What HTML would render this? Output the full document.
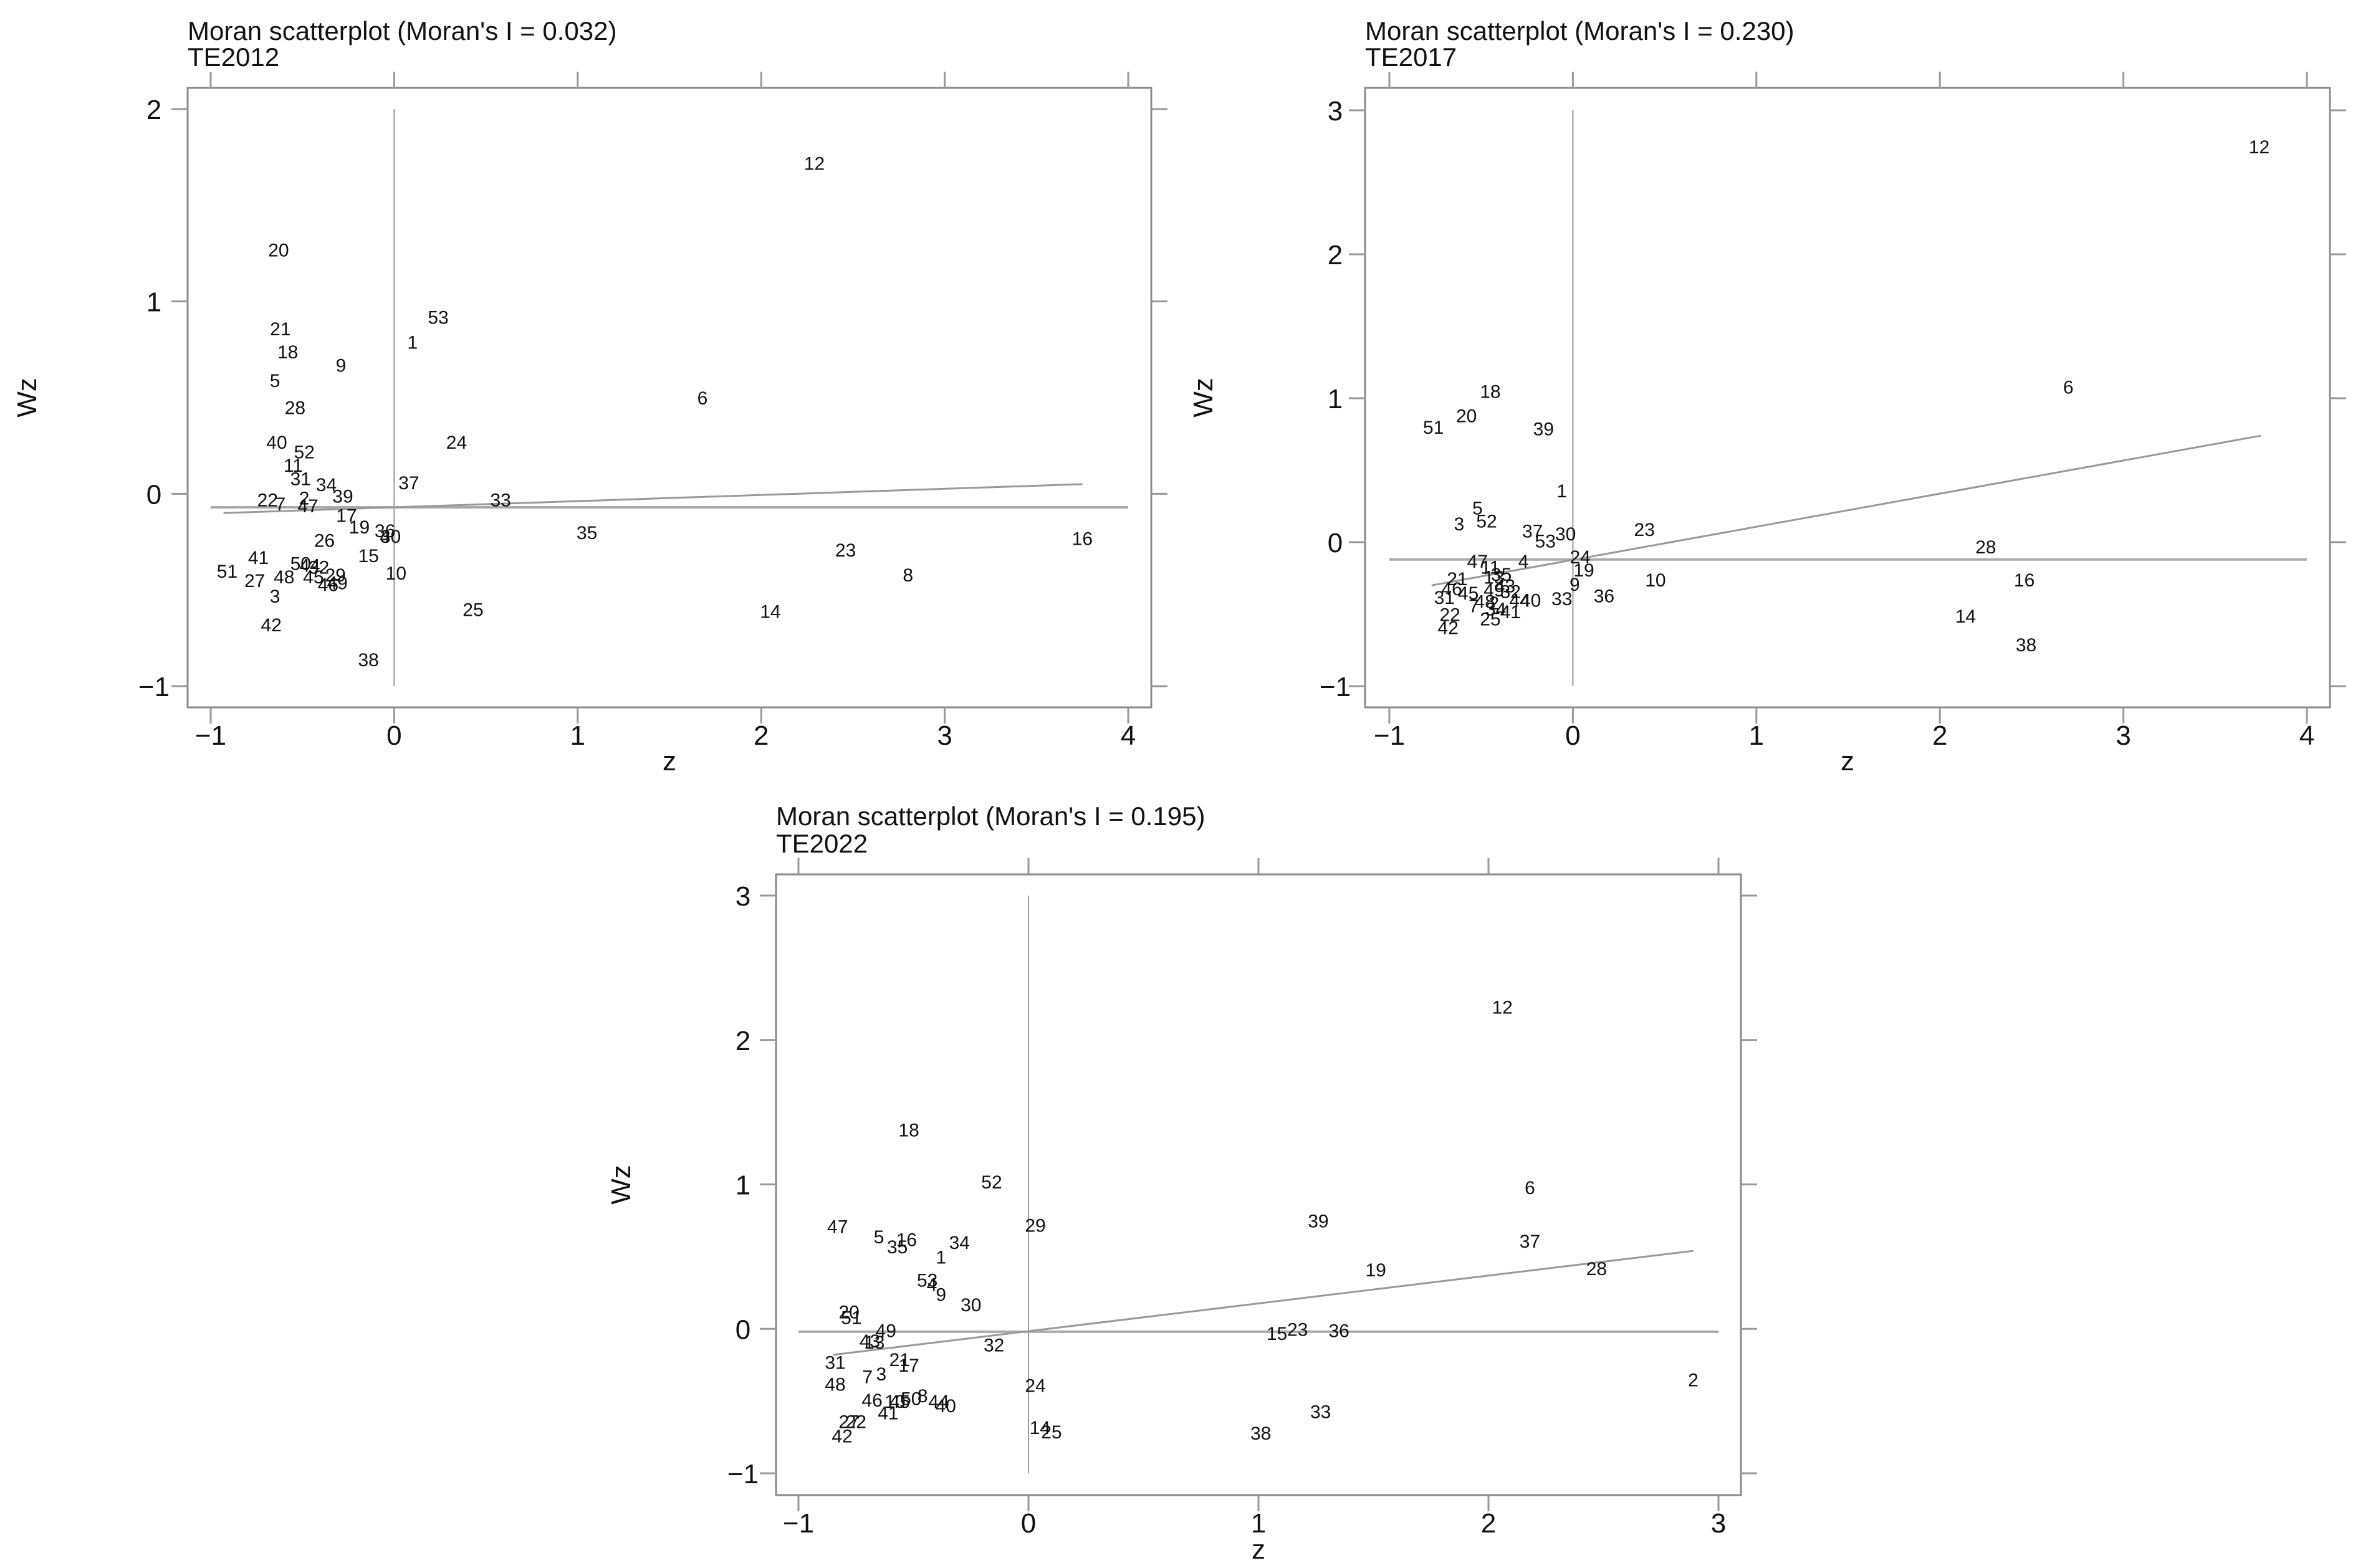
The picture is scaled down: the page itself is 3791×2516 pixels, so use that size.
<!DOCTYPE html>
<html><head><meta charset="utf-8">
<style>
html,body{margin:0;padding:0;background:#fff;}
svg{display:block;font-family:"Liberation Sans",Arial,sans-serif;}
</style></head>
<body>
<svg id="chart" width="3791" height="2516" viewBox="0 0 3791 2516" xmlns="http://www.w3.org/2000/svg">
<rect x="0" y="0" width="3791" height="2516" fill="#fff"/>
</svg>
<script>
// ---- Panel 1: TE2012 ----
const p1Labels=["12","20","53","21","1","18","9","5","6","28","24","40","52","11","31","34","37","39","22","2","33","7","47","17","19","36","4","30","35","16","26","23","15","41","50","44","32","51","10","8","29","48","45","27","49","46","3","25","14","42","38"];
const p1X=[2.29,-0.63,0.24,-0.62,0.10,-0.58,-0.29,-0.65,1.68,-0.54,0.34,-0.64,-0.49,-0.55,-0.51,-0.37,0.08,-0.28,-0.69,-0.49,0.58,-0.62,-0.47,-0.26,-0.19,-0.05,-0.05,-0.02,1.05,3.75,-0.38,2.46,-0.14,-0.74,-0.51,-0.46,-0.41,-0.91,0.01,2.80,-0.32,-0.60,-0.44,-0.76,-0.31,-0.36,-0.65,0.43,2.05,-0.67,-0.14];
const p1Y=[1.72,1.27,0.92,0.86,0.79,0.74,0.67,0.59,0.50,0.45,0.27,0.27,0.22,0.15,0.08,0.05,0.06,-0.01,-0.03,-0.02,-0.03,-0.05,-0.06,-0.11,-0.17,-0.19,-0.22,-0.22,-0.20,-0.23,-0.24,-0.29,-0.32,-0.33,-0.36,-0.37,-0.38,-0.40,-0.41,-0.42,-0.42,-0.43,-0.43,-0.45,-0.46,-0.47,-0.53,-0.60,-0.61,-0.68,-0.86];
const p1Fit=[[-0.93,-0.10],[3.75,0.05]];
const p1MeanWz=[-0.07];
const p1XTicks=[-1,0,1,2,3,4];
const p1YTicks=[-1,0,1,2];

// ---- Panel 2: TE2017 ----
const p2Labels=["12","6","18","20","51","39","1","5","52","3","37","53","30","23","28","24","47","4","11","19","21","35","10","16","9","13","43","46","45","49","32","31","36","33","7","48","2","44","40","34","41","14","22","25","38","42"];
const p2X=[3.74,2.70,-0.45,-0.58,-0.76,-0.16,-0.06,-0.52,-0.47,-0.62,-0.22,-0.15,-0.04,0.39,2.25,0.04,-0.52,-0.27,-0.45,0.06,-0.63,-0.39,0.45,2.46,0.01,-0.43,-0.37,-0.66,-0.57,-0.43,-0.34,-0.70,0.17,-0.06,-0.54,-0.48,-0.43,-0.29,-0.23,-0.42,-0.34,2.14,-0.67,-0.45,2.47,-0.68];
const p2Y=[2.75,1.08,1.05,0.88,0.80,0.79,0.36,0.24,0.15,0.13,0.08,0.01,0.06,0.09,-0.03,-0.10,-0.13,-0.13,-0.17,-0.19,-0.25,-0.22,-0.26,-0.26,-0.29,-0.24,-0.30,-0.32,-0.35,-0.33,-0.34,-0.38,-0.37,-0.39,-0.44,-0.41,-0.42,-0.40,-0.40,-0.46,-0.48,-0.51,-0.50,-0.53,-0.71,-0.59];
const p2Fit=[[-0.77,-0.30],[3.75,0.74]];
const p2MeanWz=[-0.12];
const p2XTicks=[-1,0,1,2,3,4];
const p2YTicks=[-1,0,1,2,3];

// ---- Panel 3: TE2022 ----
const p3Labels=["12","18","52","6","39","29","47","5","16","37","34","35","1","19","28","53","4","9","30","20","51","23","15","36","49","43","13","32","21","31","17","3","7","2","48","24","46","50","8","10","45","44","40","33","41","27","22","14","25","38","42"];
const p3X=[2.06,-0.52,-0.16,2.18,1.26,0.03,-0.83,-0.65,-0.53,2.18,-0.30,-0.57,-0.38,1.51,2.47,-0.44,-0.42,-0.38,-0.25,-0.78,-0.77,1.17,1.08,1.35,-0.62,-0.69,-0.67,-0.15,-0.56,-0.84,-0.52,-0.64,-0.70,2.89,-0.84,0.03,-0.68,-0.51,-0.46,-0.58,-0.56,-0.39,-0.36,1.27,-0.61,-0.78,-0.75,0.05,0.10,1.01,-0.81];
const p3Y=[2.23,1.38,1.02,0.98,0.75,0.72,0.71,0.64,0.62,0.61,0.60,0.57,0.50,0.41,0.42,0.34,0.31,0.24,0.17,0.12,0.08,0.00,-0.03,-0.01,-0.01,-0.08,-0.09,-0.11,-0.21,-0.23,-0.25,-0.31,-0.33,-0.35,-0.38,-0.39,-0.49,-0.48,-0.46,-0.50,-0.50,-0.50,-0.53,-0.57,-0.58,-0.64,-0.64,-0.68,-0.71,-0.72,-0.74];
const p3Fit=[[-0.85,-0.18],[2.89,0.54]];
const p3MeanWz=[-0.02];
const p3XTicks=[-1,0,1,2,3];
const p3YTicks=[-1,0,1,2,3];

const NS="http://www.w3.org/2000/svg";
const svg=document.getElementById('chart');
function mk(tag,attrs,parent){const e=document.createElementNS(NS,tag);for(const k in attrs)e.setAttribute(k,attrs[k]);(parent||svg).appendChild(e);return e;}

function panel(cfg){
  const g=mk('g',{});
  
  
  const sx=v=>cfg.x0+(v-cfg.xa)*(cfg.x1-cfg.x0)/(cfg.xb-cfg.xa);
  const sy=v=>cfg.y0+(v-cfg.ya)*(cfg.y1-cfg.y0)/(cfg.yb-cfg.ya);
  const t1=mk('text',{x:cfg.bx0,y:cfg.ty1,'font-size':42,fill:'#111'},g);
  t1.textContent=cfg.title;
  
  
  const t2=mk('text',{x:cfg.bx0,y:cfg.ty2,'font-size':42,fill:'#111'},g);
  t2.textContent=cfg.sub;
  
  
  const box=mk('rect',{x:cfg.bx0,y:cfg.by0,width:cfg.bx1-cfg.bx0,height:cfg.by1-cfg.by0,fill:'none',stroke:'#8a8a8a','stroke-width':3},g);
  
  
  cfg.xt.forEach(v=>{
    const X=sx(v);
    const tb=mk('line',{x1:X,x2:X,y1:cfg.by1,y2:cfg.by1+26,stroke:'#999','stroke-width':3},g);
    
    
    const tt=mk('line',{x1:X,x2:X,y1:cfg.by0,y2:cfg.by0-26,stroke:'#999','stroke-width':3},g);
    
    
    const lb=mk('text',{x:X,y:cfg.by1+60,'font-size':44,'text-anchor':'middle',fill:'#111'},g);
    lb.textContent=v<0?'\u2212'+Math.abs(v):String(v);
    
    
  });
  cfg.yt.forEach(v=>{
    const Y=sy(v);
    const tl=mk('line',{x1:cfg.bx0,x2:cfg.bx0-26,y1:Y,y2:Y,stroke:'#999','stroke-width':3},g);
    
    
    const tr=mk('line',{x1:cfg.bx1,x2:cfg.bx1+26,y1:Y,y2:Y,stroke:'#999','stroke-width':3},g);
    
    
    const lb=mk('text',{x:cfg.ylx,y:Y+16,'font-size':44,'text-anchor':'middle',fill:'#111'},g);
    lb.textContent=v<0?'\u2212'+Math.abs(v):String(v);
    
    
  });
  const xtit=mk('text',{x:(cfg.bx0+cfg.bx1)/2,y:cfg.zy,'font-size':44,'text-anchor':'middle',fill:'#111'},g);
  xtit.textContent='z';
  
  
  const ytit=mk('text',{x:0,y:0,'font-size':44,'text-anchor':'middle',fill:'#111',transform:`translate(${cfg.wzx+15},${(cfg.by0+cfg.by1)/2}) rotate(-90)`},g);
  ytit.textContent='Wz';
  
  
  const vl=mk('line',{x1:sx(0),x2:sx(0),y1:sy(cfg.yt[cfg.yt.length-1]),y2:sy(cfg.yt[0]),stroke:'#999','stroke-width':2},g);
  
  
  const hl=mk('line',{x1:sx(cfg.xt[0]),x2:sx(cfg.xt[cfg.xt.length-1]),y1:sy(cfg.mean[0]),y2:sy(cfg.mean[0]),stroke:'#aaa','stroke-width':4},g);
  
  
  const fl=mk('line',{x1:sx(cfg.fit[0][0]),y1:sy(cfg.fit[0][1]),x2:sx(cfg.fit[1][0]),y2:sy(cfg.fit[1][1]),stroke:'#999','stroke-width':3},g);
  
  
  cfg.labels.forEach((lab,i)=>{
    const t=mk('text',{x:sx(cfg.xs[i]),y:sy(cfg.ys[i])+11,'font-size':30,'text-anchor':'middle',fill:'#111'},g);
    t.textContent=lab;
    
    
  });
}

panel({name:'panel-te2012',title:"Moran scatterplot (Moran's I = 0.032)",sub:'TE2012',
  bx0:301,bx1:1847,by0:141,by1:1135,x0:338,x1:1810,xa:-1,xb:4,y0:175,y1:1101,ya:2,yb:-1,
  ty1:64,ty2:106,ylx:247,zy:1236,wzx:43,xt:p1XTicks,yt:p1YTicks,labels:p1Labels,xs:p1X,ys:p1Y,fit:p1Fit,mean:p1MeanWz});
panel({name:'panel-te2017',title:"Moran scatterplot (Moran's I = 0.230)",sub:'TE2017',
  bx0:2190,bx1:3738,by0:141,by1:1135,x0:2229,x1:3701,xa:-1,xb:4,y0:177,y1:1101,ya:3,yb:-1,
  ty1:64,ty2:106,ylx:2142,zy:1236,wzx:1930,xt:p2XTicks,yt:p2YTicks,labels:p2Labels,xs:p2X,ys:p2Y,fit:p2Fit,mean:p2MeanWz});
panel({name:'panel-te2022',title:"Moran scatterplot (Moran's I = 0.195)",sub:'TE2022',
  bx0:1245,bx1:2793,by0:1403,by1:2399,x0:1281,x1:2757,xa:-1,xb:3,y0:1437,y1:2364,ya:3,yb:-1,
  ty1:1324,ty2:1368,ylx:1192,zy:2501,wzx:996,xt:p3XTicks,yt:p3YTicks,labels:p3Labels,xs:p3X,ys:p3Y,fit:p3Fit,mean:p3MeanWz});
</script>
</body></html>
